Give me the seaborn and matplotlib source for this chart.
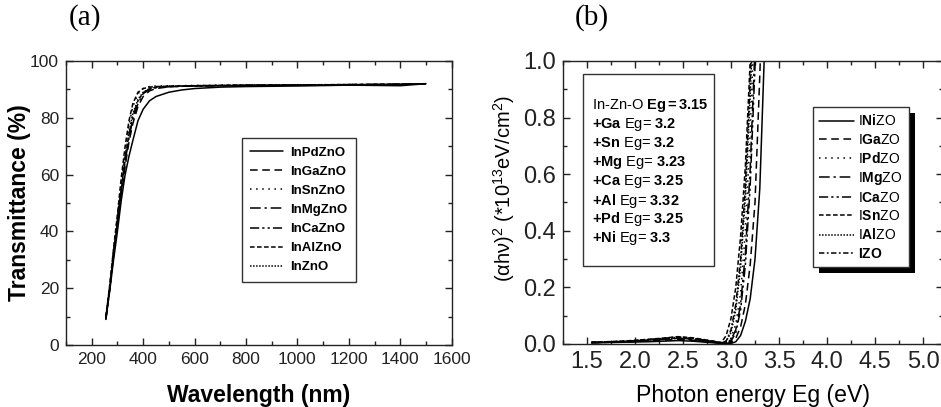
import matplotlib
matplotlib.use("Agg")
import matplotlib.pyplot as plt
from matplotlib.patches import Rectangle
from matplotlib.ticker import MultipleLocator
import seaborn as sns

# ---- (a) optical transmittance spectra ----
wavelength = [255, 270, 285, 300, 315, 330, 345, 360, 380, 400, 425, 450,
              500, 550, 600, 700, 800, 1000, 1200, 1400, 1500]
t_InPdZnO = [9, 19, 30, 40, 51, 60, 66.5, 72, 79, 83, 86, 87.5,
             89, 89.8, 90.3, 90.8, 91.0, 91.2, 91.5, 91.3, 92.0]
t_InGaZnO = [9, 19.5, 31.5, 42, 53, 63, 71.5, 78, 84, 87.5, 89.5, 90.3,
             90.9, 91.1, 91.2, 91.3, 91.4, 91.5, 91.6, 91.8, 92.0]
t_InSnZnO = [10, 21, 33.5, 45, 57, 68, 77.5, 84, 88.5, 90.3, 91.0, 91.2,
             91.3, 91.3, 91.4, 91.5, 91.5, 91.6, 91.7, 91.9, 92.0]
t_InMgZnO = [9.5, 20, 32, 43, 54, 64.5, 73, 79.5, 85, 88.5, 90.0, 90.6,
             91.0, 91.1, 91.2, 91.3, 91.4, 91.5, 91.6, 91.8, 92.0]
t_InCaZnO = [9.5, 20, 32.5, 43.5, 55, 65.5, 74, 80.5, 86, 88.8, 90.2, 90.7,
             91.0, 91.1, 91.2, 91.3, 91.4, 91.5, 91.7, 91.8, 92.0]
t_InAlZnO = [10, 21, 34, 46, 59, 70, 79, 85, 89, 90.3, 90.8, 91.0,
             91.1, 91.2, 91.3, 91.4, 91.5, 91.5, 91.7, 91.8, 92.0]
t_InZnO = [9.5, 20, 32.5, 44, 55.5, 66, 75, 81.5, 86.5, 89, 90.3, 90.8,
           91.1, 91.2, 91.3, 91.4, 91.5, 91.6, 91.7, 91.8, 92.0]

names_a = ["InPdZnO", "InGaZnO", "InSnZnO", "InMgZnO", "InCaZnO", "InAlZnO", "InZnO"]
series_a = [t_InPdZnO, t_InGaZnO, t_InSnZnO, t_InMgZnO, t_InCaZnO, t_InAlZnO, t_InZnO]

# ---- (b) Tauc plot ----
energy = [1.55, 1.7, 1.85, 2.0, 2.15, 2.3, 2.45, 2.6, 2.75, 2.9, 2.95,
          3.0, 3.05, 3.1, 3.15, 3.2, 3.25, 3.3, 3.35, 3.4]
a_INiZO = [0.004, 0.005, 0.006, 0.007, 0.008, 0.010, 0.012, 0.010, 0.006, 0.002, 0.001,
           0.002, 0.008, 0.03, 0.08, 0.16, 0.30, 0.55, 1.05, 1.6]
a_IGaZO = [0.005, 0.006, 0.007, 0.009, 0.011, 0.014, 0.016, 0.013, 0.008, 0.003, 0.002,
           0.005, 0.02, 0.06, 0.14, 0.28, 0.50, 0.95, 1.5, 2.0]
a_IPdZO = [0.006, 0.007, 0.009, 0.011, 0.014, 0.018, 0.022, 0.017, 0.011, 0.004, 0.005,
           0.02, 0.07, 0.18, 0.40, 0.75, 1.2, 1.7, 2.2, 2.7]
a_IMgZO = [0.005, 0.006, 0.008, 0.010, 0.013, 0.016, 0.020, 0.016, 0.010, 0.004, 0.004,
           0.015, 0.05, 0.14, 0.32, 0.62, 1.05, 1.5, 2.0, 2.5]
a_ICaZO = [0.005, 0.006, 0.008, 0.011, 0.014, 0.017, 0.021, 0.017, 0.011, 0.004, 0.003,
           0.01, 0.04, 0.12, 0.28, 0.56, 0.98, 1.5, 2.0, 2.5]
a_ISnZO = [0.006, 0.008, 0.010, 0.013, 0.017, 0.021, 0.026, 0.022, 0.014, 0.005, 0.03,
           0.09, 0.20, 0.38, 0.63, 1.0, 1.5, 2.0, 2.5, 3.0]
a_IAlZO = [0.005, 0.007, 0.009, 0.012, 0.015, 0.019, 0.024, 0.019, 0.012, 0.004, 0.01,
           0.04, 0.12, 0.27, 0.52, 0.88, 1.3, 1.8, 2.3, 2.8]
a_IZO = [0.006, 0.007, 0.009, 0.012, 0.016, 0.020, 0.025, 0.020, 0.013, 0.005, 0.01,
         0.05, 0.14, 0.30, 0.56, 0.93, 1.4, 1.9, 2.4, 2.9]

labels_b = [r"I$\mathbf{Ni}$ZO", r"I$\mathbf{Ga}$ZO", r"I$\mathbf{Pd}$ZO", r"I$\mathbf{Mg}$ZO",
            r"I$\mathbf{Ca}$ZO", r"I$\mathbf{Sn}$ZO", r"I$\mathbf{Al}$ZO", r"$\mathbf{IZO}$"]
series_b = [a_INiZO, a_IGaZO, a_IPdZO, a_IMgZO, a_ICaZO, a_ISnZO, a_IAlZO, a_IZO]

gap_lines = [r"In-Zn-O $\mathbf{Eg{=}3.15}$",
             r"$\mathbf{{+}Ga}$ Eg= $\mathbf{3.2}$",
             r"$\mathbf{{+}Sn}$ Eg= $\mathbf{3.2}$",
             r"$\mathbf{{+}Mg}$ Eg= $\mathbf{3.23}$",
             r"$\mathbf{{+}Ca}$ Eg= $\mathbf{3.25}$",
             r"$\mathbf{{+}Al}$ Eg= $\mathbf{3.32}$",
             r"$\mathbf{{+}Pd}$ Eg= $\mathbf{3.25}$",
             r"$\mathbf{{+}Ni}$ Eg= $\mathbf{3.3}$"]

# line styles (dash patterns in units of line width)
styles_a = ["-", (0, (5, 3)), (0, (1, 3)), (0, (7, 2.5, 1.5, 2.5)),
            (0, (6, 2, 1.5, 2, 1.5, 2)), (0, (3, 1.6)), (0, (1, 1))]
styles_b = ["-", (0, (5, 3)), (0, (1, 3)), (0, (7, 2.5, 1.5, 2.5)),
            (0, (6, 2, 1.5, 2, 1.5, 2)), (0, (3, 1.6)), (0, (1, 1)),
            (0, (3.5, 1.6, 1.2, 1.6))]

sns.set_style("ticks")
plt.rcParams.update({
    "font.family": ["Liberation Sans", "DejaVu Sans"],
    "mathtext.fontset": "custom",
    "mathtext.rm": "Liberation Sans",
    "mathtext.bf": "Liberation Sans:bold",
    "mathtext.it": "Liberation Sans:italic",
    "mathtext.default": "regular",
    "axes.edgecolor": "#222222",
    "axes.linewidth": 1.0,
    "xtick.direction": "in",
    "ytick.direction": "in",
    "xtick.color": "#222222",
    "ytick.color": "#222222",
    "text.color": "black",
    "axes.labelcolor": "black",
})

fig = plt.figure(figsize=(9.41, 4.07), dpi=100)
W, H = 941.0, 407.0
ax_a = fig.add_axes([66 / W, 1 - 345 / H, (451.7 - 66) / W, (345 - 61) / H])
ax_b = fig.add_axes([562.7 / W, 1 - 344 / H, (942.5 - 562.7) / W, (344 - 61) / H])

LW = 1.1
for name, vals, ls in zip(names_a, series_a, styles_a):
    sns.lineplot(x=wavelength, y=vals, ax=ax_a, color="black", lw=LW,
                 linestyle=ls, label=name, sort=False, estimator=None)

for name, vals, ls in zip(labels_b, series_b, styles_b):
    sns.lineplot(x=energy, y=vals, ax=ax_b, color="black", lw=LW,
                 linestyle=ls, label=name, sort=False, estimator=None)

# axes (a)
ax_a.set_xlim(100, 1600)
ax_a.set_ylim(0, 100)
ax_a.xaxis.set_major_locator(MultipleLocator(200))
ax_a.xaxis.set_minor_locator(MultipleLocator(100))
ax_a.yaxis.set_major_locator(MultipleLocator(20))
ax_a.yaxis.set_minor_locator(MultipleLocator(10))
ax_a.set_xlabel("Wavelength (nm)", fontsize=16.5, fontweight="bold", labelpad=12.5)
ax_a.set_ylabel("Transmittance (%)", fontsize=16.5, fontweight="bold", labelpad=-1)

# axes (b)
ax_b.set_xlim(1.25, 5.2)
ax_b.set_ylim(0, 1.0)
ax_b.xaxis.set_major_locator(MultipleLocator(0.5))
ax_b.xaxis.set_minor_locator(MultipleLocator(0.25))
ax_b.yaxis.set_major_locator(MultipleLocator(0.2))
ax_b.yaxis.set_minor_locator(MultipleLocator(0.1))
ax_b.xaxis.set_major_formatter(plt.FormatStrFormatter("%.1f"))
ax_b.yaxis.set_major_formatter(plt.FormatStrFormatter("%.1f"))
ax_b.set_xlabel("Photon energy Eg (eV)", fontsize=16.6, labelpad=8)
ax_b.set_ylabel(r"(αhν)$^2$ (*10$^{13}$eV/cm$^2$)", fontsize=14.5, labelpad=4)
ax_b.yaxis.label.set_y(0.55)

for ax, fs in ((ax_a, 12.5), (ax_b, 17)):
    for side in ("top", "right", "left", "bottom"):
        ax.spines[side].set_visible(True)
    ax.tick_params(which="both", top=True, right=True, direction="in")
    ax.tick_params(which="major", length=5, width=1, labelsize=fs, pad=5)
    ax.tick_params(which="minor", length=3, width=1)

leg_a = ax_a.legend(loc="upper left", bbox_to_anchor=(0.456, 0.729), borderaxespad=0,
                    frameon=True, fancybox=False, edgecolor="#333333", framealpha=1,
                    prop={"weight": "bold", "size": 9.5}, handlelength=2.5,
                    handletextpad=0.5, labelspacing=0.52, borderpad=0.65)
leg_a.get_frame().set_linewidth(1.0)

leg_b = ax_b.legend(loc="upper left", bbox_to_anchor=(0.658, 0.837), borderaxespad=0,
                    frameon=True, fancybox=False, edgecolor="#333333", framealpha=1,
                    prop={"size": 10}, handlelength=2.5,
                    handletextpad=0.35, labelspacing=0.3, borderpad=0.45)
leg_b.get_frame().set_linewidth(1.0)

# band-gap summary box
x0, x1 = (583 - 562.7) / 379.8, (714 - 562.7) / 379.8
y_top, y_bot = (344 - 74) / 283, (344 - 266) / 283
ax_b.add_patch(Rectangle((x0, y_bot), x1 - x0, y_top - y_bot, transform=ax_b.transAxes,
                         fill=True, facecolor="white", edgecolor="#333333", lw=1.0, zorder=5))
for i, line in enumerate(gap_lines):
    ax_b.text((592.5 - 562.7) / 379.8, (344 - 106 - i * 18.9) / 283, line,
              transform=ax_b.transAxes, fontsize=10.5, va="center", ha="left", zorder=6)

# panel tags
fig.text(85 / W, 1 - 18 / H, "(a)", fontsize=21, family="Liberation Serif", ha="center", va="center")
fig.text(592 / W, 1 - 18 / H, "(b)", fontsize=21, family="Liberation Serif", ha="center", va="center")

# drop shadow behind the legend of (b)
fig.canvas.draw()
bb = leg_b.get_window_extent().transformed(fig.transFigure.inverted())
off_x, off_y = 6 / W, 6 / H
ax_b.add_patch(Rectangle((bb.x0 + off_x, bb.y0 - off_y), bb.width, bb.height,
                         transform=fig.transFigure, facecolor="black", edgecolor="none",
                         clip_on=False, zorder=4.9))
leg_b.set_zorder(10)

fig.savefig("out.png", dpi=100)
